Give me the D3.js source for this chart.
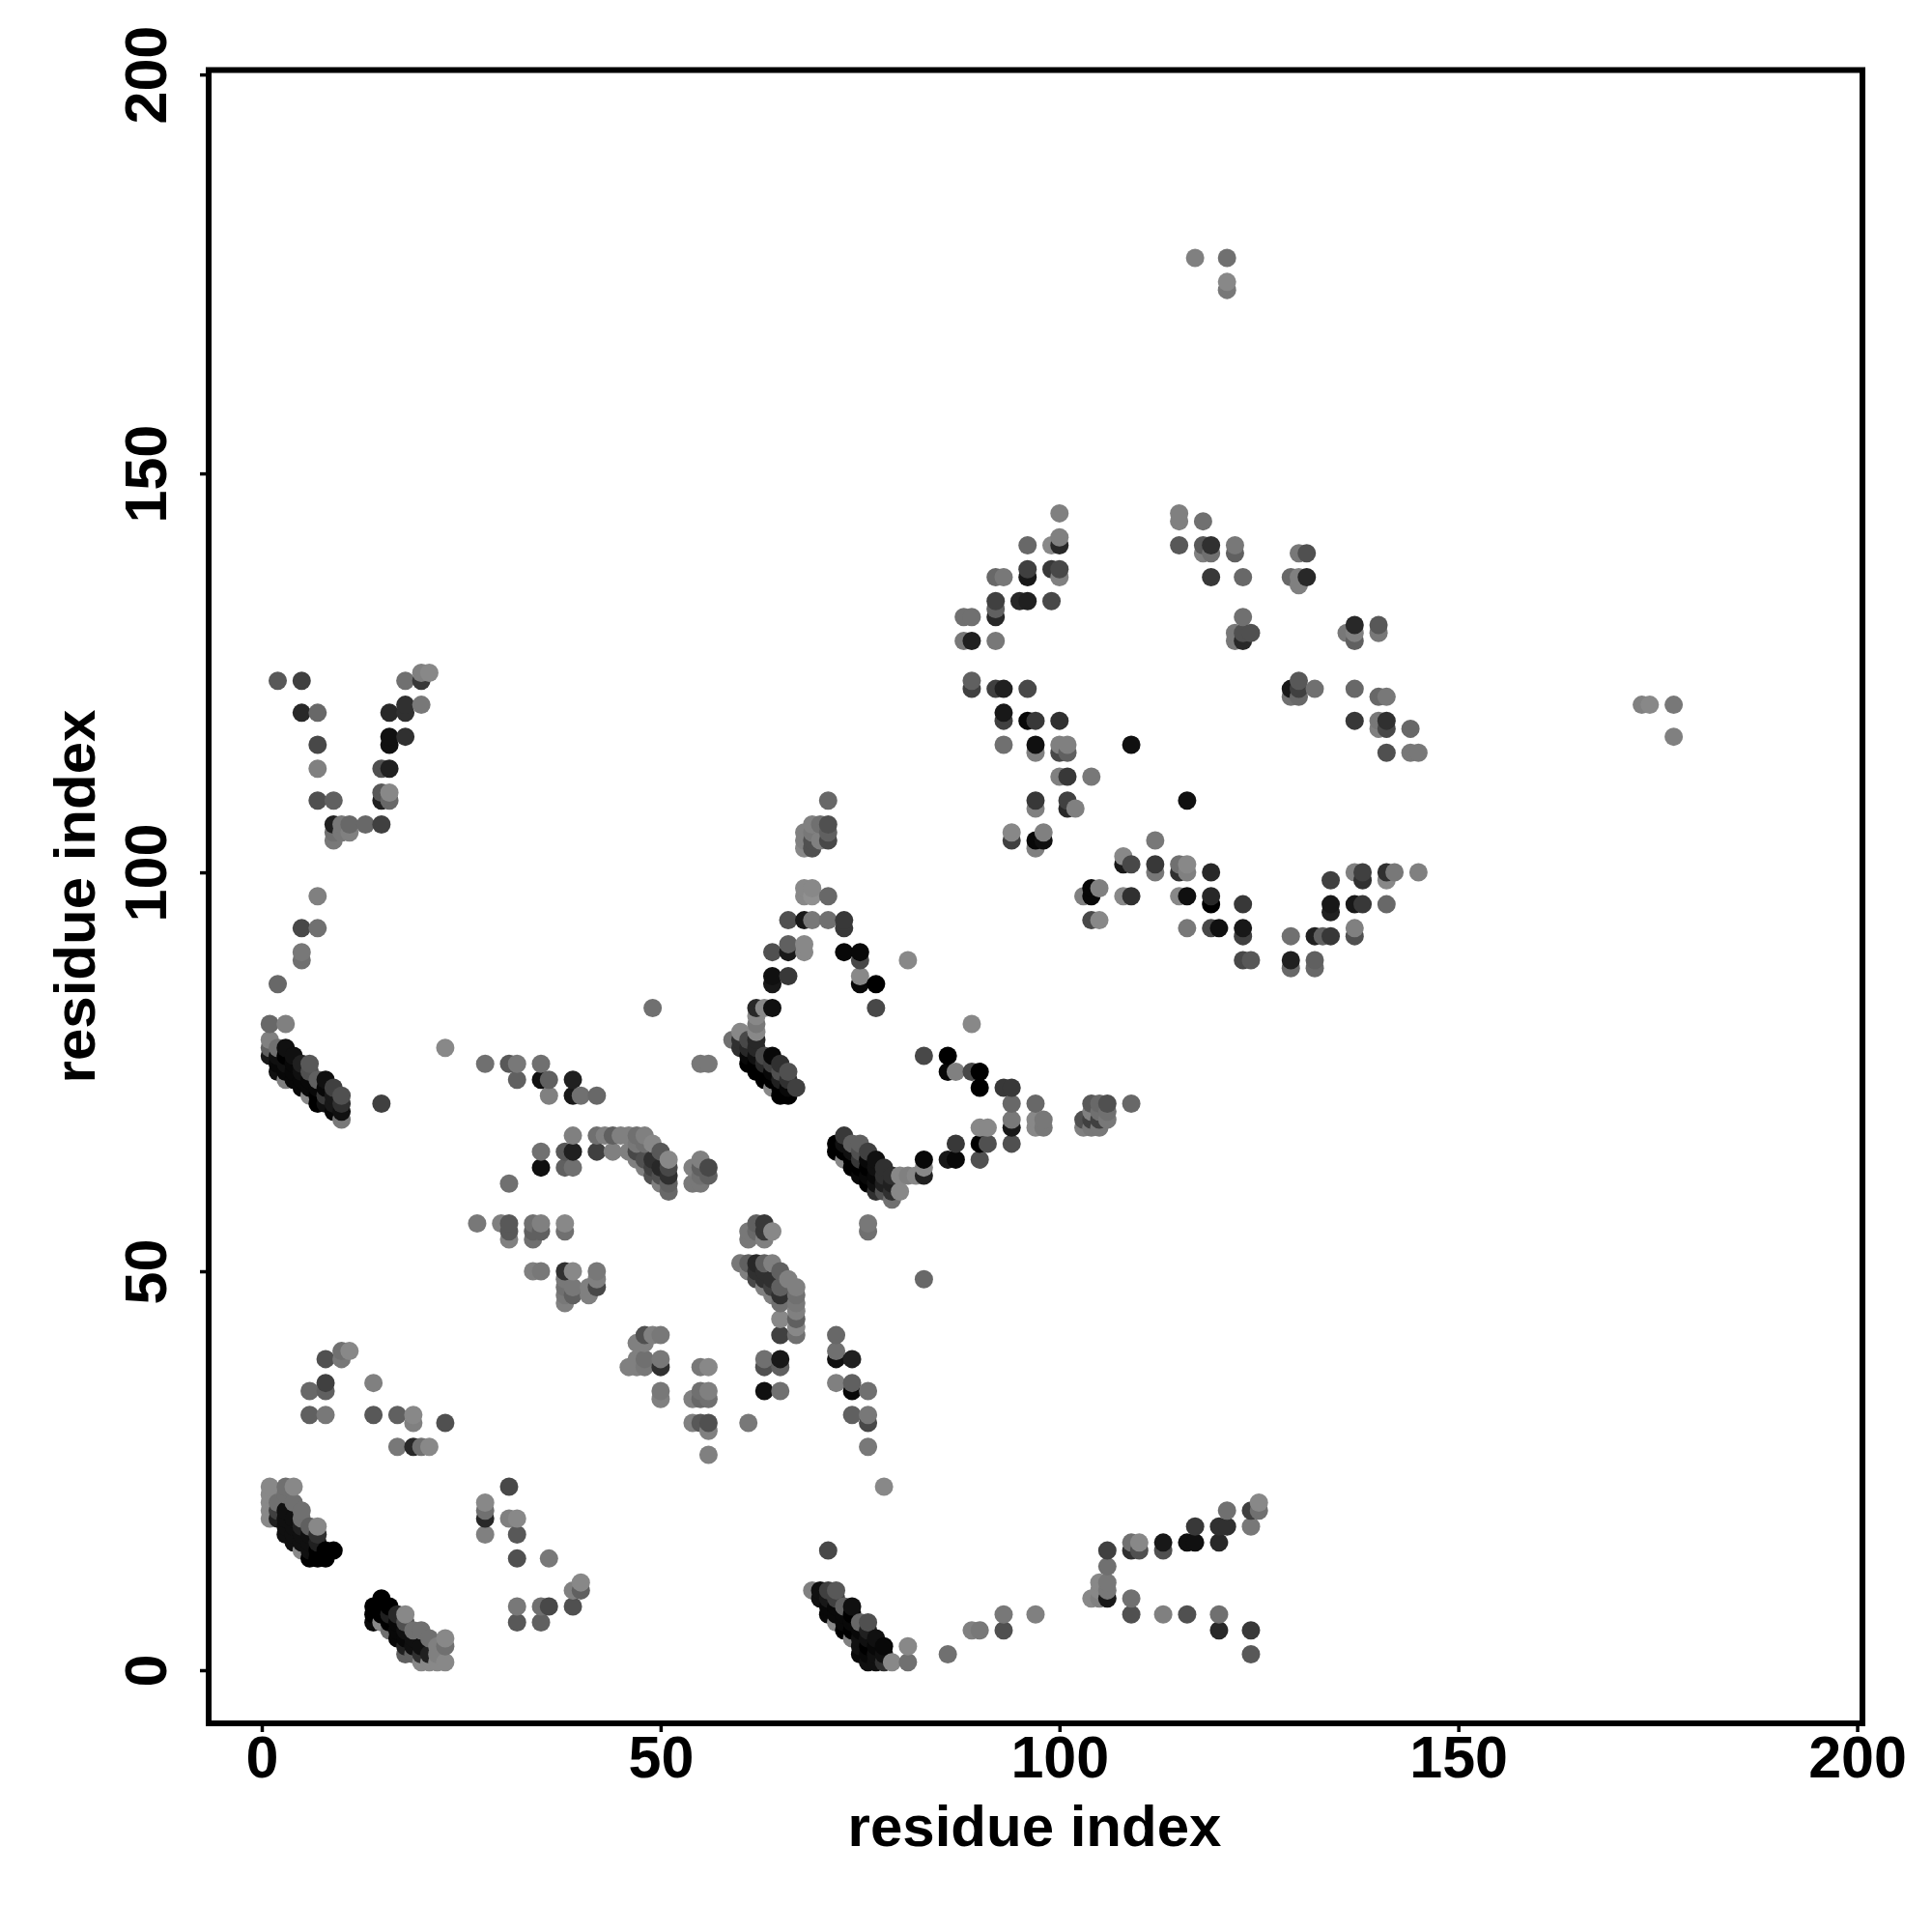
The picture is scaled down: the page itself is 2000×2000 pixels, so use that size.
<!DOCTYPE html>
<html><head><meta charset="utf-8">
<script src="https://cdn.jsdelivr.net/npm/d3@7"></script>
<style>html,body{margin:0;padding:0;background:#fff}svg{display:block}</style>
</head><body><svg id="c" width="2000" height="2000"></svg>
<script>
// Each row: [residue i, residue j, shade score (0 dark .. 9 light)]
const diagonalA = [[1,19,8.5],[1,20,8.5],[1,21,8.5],[1,22,8.5],[1,23,8.5],[2,19,2],[2,20,4],[2,21,7],[3,17,1],[3,18,1],[3,19,1],[3,20,1],[3,22,7],[3,23,7],[4,16,1],[4,17,1],[4,18,1],[4,19,1],[4,21,7],[4,23,8.5],[5,15,8.5],[5,16,1],[5,17,1],[5,18,2],[5,19,7],[5,20,7],[6,14,0],[6,15,1],[6,16,1],[6,17,1],[6,18,6],[7,14,0],[7,15,0],[7,16,2],[7,17,3],[7,18,8.5],[8,14,0],[8,15,0],[9,15,0]];
const upperSmallA = [[6,35,6.5],[6,32,6],[8,39,5],[8,36,4],[8,35,6],[8,32,7.5],[10,39,7.5],[10,40,7],[11,40,8.5],[14,36,8],[14,32,5.5],[17,32,6],[17,28,7.5],[19,32,8.5],[19,31,8],[19,28,2.5],[20,28,7],[21,28,8.5],[23,31,5]];
const diagonalB = [[14,6,.5],[14,7,0],[14,8,0],[15,6,8.5],[15,7,0],[15,8,0],[15,9,0],[16,5,7],[16,6,0],[16,7,2],[16,8,0],[17,4,.5],[17,5,.5],[17,6,.5],[17,7,2.5],[18,2,6],[18,3,2],[18,4,.5],[18,5,1],[18,6,5],[18,7,8.5],[19,2,6],[19,3,1],[19,4,1],[19,5,7],[20,1,8.5],[20,2,3],[20,3,1],[20,5,7],[21,1,8.5],[21,2,2],[21,4,7],[22,1,8.5],[22,2,8],[22,3,8],[23,1,8.5],[23,3,7],[23,4,8.5]];
const lowerRightA = [[28,17,8],[28,19,2.5],[28,20,7],[28,21,8.5],[31,19,8],[31,23,4.5],[32,6,5.5],[32,8,7.5],[32,14,5],[32,17,5.5],[32,19,8.5],[35,6,6],[35,8,7],[36,8,4.5],[36,14,7.5],[39,8,5],[39,10,8],[40,10,6],[40,11,8.5]];
const midBandLow = [[27,56,7.5],[30,56,8],[31,54,8],[31,55,5.5],[31,56,5.5],[31,61,7],[34,50,8],[34,54,7],[34,55,6],[34,56,7],[35,50,7.5],[35,55,6],[35,56,8],[38,46,8],[38,47,7.5],[38,48,7],[38,49,7.5],[38,50,3],[38,55,7],[38,56,8.5],[39,47,6],[39,48,7.5],[39,50,8.5],[41,47,8],[41,48,8],[42,48,4.5],[42,49,8],[42,50,7.5],[46,38,8],[47,38,8],[47,39,8],[47,41,8],[48,38,7.5],[48,39,7],[48,41,8],[48,42,5],[49,42,8],[50,34,8],[50,35,7.5],[50,38,3],[50,39,7.5],[50,42,7.5],[54,31,8],[54,34,8],[55,31,5.5],[55,34,6.5],[55,35,7],[55,38,7.5],[56,27,8],[56,30,8],[56,31,5],[56,34,7],[56,35,8],[56,38,8.5],[61,31,7.5],[63,35,1],[63,38,5],[63,39,7],[65,35,7],[65,38,6],[65,39,1.5],[65,42,4],[65,44,8.5],[72,36,8],[72,39,1],[72,40,7],[72,42,6.5],[74,32,6],[74,35,.5],[74,36,6],[74,39,2],[76,28,7.5],[76,31,4.5],[76,32,7.5],[76,35,7],[76,55,7],[76,56,7.5]];
const clusterNearSixty = [[60,51,7.5],[61,50,8],[61,51,6],[61,54,7.5],[61,55,7.5],[62,49,4.5],[62,50,3],[62,51,2.5],[62,55,6.5],[62,56,6],[63,48,8],[63,49,3],[63,50,3],[63,51,6],[63,54,8],[63,55,3.5],[63,56,3.5],[64,47,8],[64,48,4],[64,49,3],[64,51,8],[64,55,8.5],[65,46,7],[65,47,3],[65,48,6],[65,50,6],[66,49,8],[67,42,7],[67,43,8.5],[67,44,6],[67,45,8],[67,46,7.5],[67,47,7],[67,48,8]];
const midBandHigh = [[23,78,8.5],[28,76,7],[31,61,7],[31,76,5.5],[32,74,6],[32,76,7.5],[35,63,1],[35,65,7],[35,74,1],[35,76,7],[36,72,8],[36,74,6],[38,63,6],[38,65,5.5],[39,63,7],[39,65,2],[39,67,8],[39,72,1.5],[39,74,2],[40,72,7],[42,65,4],[42,67,7],[42,72,6.5],[43,67,8],[44,65,8],[44,67,6],[45,67,8],[46,65,8],[46,67,8],[47,64,8],[47,65,4.5],[47,66,7.5],[47,67,7],[48,63,8],[48,64,5],[48,66,7],[48,67,8],[49,62,5],[49,63,4],[49,64,3],[49,66,8.5],[49,83,7],[50,61,8],[50,62,5],[50,63,2.5],[50,65,5.5],[51,60,6.5],[51,61,6],[51,62,3],[51,63,4.5],[51,64,8.5],[54,61,7.5],[54,63,8],[55,61,7.5],[55,62,7],[55,63,6],[55,64,8],[55,76,7.5],[56,62,6],[56,63,4.5],[56,76,7.5]];
const diagonalC = [[59,79,7],[60,78,3],[60,79,3],[60,80,8.5],[61,76,0],[61,77,.5],[61,78,2.5],[61,79,4.5],[62,75,0],[62,76,0],[62,77,1],[62,78,2.5],[62,79,2.5],[62,80,8.5],[62,81,7.5],[62,82,8.5],[62,83,2.5],[63,74,0],[63,75,0],[63,76,2.5],[63,77,4.5],[63,83,8.5],[64,73,8.5],[64,74,0],[64,75,.5],[64,76,4],[64,77,.5],[64,83,1],[64,86,1.5],[64,87,1],[64,90,5],[65,72,0],[65,73,0],[65,74,2],[65,75,5],[65,76,3],[66,72,0],[66,73,.5],[66,74,3],[66,75,5],[66,87,3.5],[66,90,1.5],[66,91,6],[66,94,5],[67,73,4],[68,90,8.5],[68,91,8.5],[68,94,1.5],[68,97,8.5],[68,98,8.5],[68,103,8.5],[68,104,8],[68,105,8],[69,97,9],[69,98,8.5],[69,94,7.5],[69,103,5],[69,104,5],[69,105,7.5],[69,106,8],[70,104,8],[70,106,7],[71,94,7],[71,97,6.5],[71,104,4.5],[71,105,6],[71,106,5],[71,109,6.5],[73,93,3.5],[73,94,3.5],[73,90,.5],[75,86,.5],[75,87,8.5],[75,89,4.5],[75,90,.5],[77,83,4.5],[77,86,0],[81,89,8.5]];
const diagonalD = [[72,65,0],[72,66,0],[73,64,8.5],[73,65,0],[73,66,1],[73,67,3.5],[74,63,0],[74,64,0],[74,65,1],[74,66,6],[75,62,.5],[75,63,0],[75,64,3.5],[75,65,5],[75,66,6],[76,61,0],[76,62,.5],[76,63,0],[76,64,.5],[76,65,4],[77,60,3],[77,61,1],[77,62,.5],[77,63,1],[77,64,1],[78,60,5],[78,61,2],[78,62,3],[78,63,3],[79,59,7],[79,60,3],[79,61,2],[79,62,3],[80,60,8.5],[80,62,8.5],[81,62,8],[82,62,8.5],[83,49,6.5],[83,62,2],[83,63,8.5],[83,64,.5],[83,77,4.5],[86,64,1.5],[86,75,.5],[86,77,0],[87,64,.5],[87,66,3.5],[87,75,8],[89,75,4.5],[89,81,8.5],[90,64,5],[90,66,0],[90,68,8.5],[90,73,0],[90,75,0],[91,66,5],[91,68,8.5],[93,73,3.5],[94,66,5],[94,68,1.5],[94,69,7.5],[94,71,6.5],[94,73,3.5],[97,68,8.5],[97,69,8.5],[97,71,6.5],[98,68,7.5],[98,69,7.5],[103,68,8],[103,69,5],[104,68,7.5],[104,69,4],[104,70,8],[104,71,5.5],[105,68,7.5],[105,69,4],[105,70,7],[105,71,6.5],[106,69,7.5],[106,70,7],[106,71,5],[109,71,6.5]];
const lowerRightB = [[69,10,8],[70,9,1],[70,10,1],[71,7,.5],[71,8,.5],[71,9,1.5],[71,10,4],[71,15,4.5],[72,6,8.5],[72,7,.5],[72,8,.5],[72,9,4],[72,10,5.5],[73,5,0],[73,6,.5],[73,7,.5],[73,8,6],[74,4,8],[74,5,0],[74,6,.5],[74,7,0],[74,8,1],[75,2,.5],[75,3,1],[75,4,1],[75,5,.5],[75,6,6.5],[76,1,1],[76,2,.5],[76,3,0],[76,4,1],[76,5,2],[76,6,5],[77,1,1],[77,2,1],[77,3,.5],[77,4,1],[78,1,3],[78,2,1],[78,3,.5],[78,23,8.5],[79,1,8.5],[81,1,7],[81,3,8.5],[86,2,7],[89,5,8],[90,5,7.5],[93,5,5],[93,7,7.5],[97,7,8],[104,9,8.5],[105,9,8],[105,10,8.5],[105,11,8.5],[106,9,1.5],[106,10,7.5],[106,11,7.5],[106,13,7],[106,15,4],[109,7,5],[109,9,7],[109,15,3],[109,16,7],[110,15,5],[110,16,8.5],[113,7,8],[113,15,5],[113,16,1.5],[116,7,5],[116,16,1],[117,16,1],[117,18,3.5],[120,5,2.5],[120,7,7],[120,16,2.5],[120,18,3],[121,18,3],[121,20,7],[124,2,5.5],[124,5,3.5],[124,18,7.5],[124,20,4],[125,20,7],[125,21,8.5]];
const vShape = [[2,86,6.5],[2,124,5.5],[5,89,7],[5,90,7.5],[5,93,4.5],[5,120,2.5],[5,124,4],[7,93,7],[7,97,8],[7,109,5],[7,113,8],[7,116,4.5],[7,120,6.5],[9,104,7.5],[9,105,7],[9,106,2],[9,109,6],[10,105,7.5],[10,106,7.5],[11,105,8],[11,106,6.5],[13,106,6.5],[15,71,4],[15,106,4],[15,109,2],[15,110,5.5],[15,113,5],[16,109,6.5],[16,110,8.5],[16,113,2],[16,116,1],[16,117,1],[16,120,2.5],[18,117,3],[18,120,3],[18,121,3],[18,124,7],[20,121,7.5],[20,124,3.5],[20,125,8],[21,125,8.5]];
const diagonalE = [[1,77,1.5],[1,78,6],[1,79,8],[1,81,6.5],[2,75,1],[2,76,.5],[2,77,1],[2,78,7],[3,74,8],[3,75,.5],[3,76,1],[3,77,0],[3,78,1],[3,81,8],[4,74,.5],[4,75,.5],[4,76,.5],[4,77,1],[5,73,.5],[5,74,.5],[5,75,1],[5,76,2],[6,72,8.5],[6,73,.5],[6,74,.5],[6,75,5],[6,76,5.5],[7,71,0],[7,72,0],[7,73,.5],[7,74,6],[8,71,1],[8,72,3.5],[8,73,.5],[8,74,1],[9,70,.5],[9,71,1.5],[9,72,1.5],[9,73,4],[10,69,7.5],[10,70,1],[10,71,3],[10,72,5]];
const upperRing = [[88,129,7.5],[88,132,7],[89,123,4],[89,124,6],[89,129,2],[89,132,7],[92,123,4],[92,129,7.5],[92,132,2.5],[92,133,6],[92,134,4],[92,137,6.5],[93,116,7],[93,119,4],[93,120,1.5],[93,123,2],[93,137,7.5],[94,104,4],[94,105,8.5],[95,134,2.5],[96,119,.5],[96,123,4.5],[96,134,2],[96,137,1.5],[96,138,4],[96,141,6.5],[97,103,8],[97,104,.5],[97,108,8],[97,109,3.5],[97,115,8],[97,116,1],[97,119,3.5],[98,104,1],[98,105,8],[99,134,4.5],[99,138,3.5],[99,141,8.5],[100,112,8],[100,115,4.5],[100,116,8],[100,119,3],[100,137,8],[100,138,4.5],[100,141,2.5],[100,142,8],[100,145,8],[101,108,2.5],[101,109,4],[101,112,3.5],[101,115,6],[101,116,8],[102,108,8],[104,112,7.5]];
const upperRingRight = [[115,141,5.5],[115,144,8],[115,145,8],[116,109,1],[118,140,8],[118,141,5.5],[118,144,7],[119,137,3.5],[119,140,7],[119,141,3],[122,129,7.5],[122,130,7.5],[122,140,6],[122,141,7.5],[123,129,2.5],[123,130,5],[123,132,7],[123,137,6.5],[124,130,5],[129,122,7],[129,123,1.5],[129,137,6.5],[130,122,6.5],[130,123,4],[130,124,5.5],[130,136,8],[130,137,8],[130,140,7.5],[131,137,2.5],[131,140,5],[132,123,7],[136,130,7.5],[137,119,3.5],[137,123,6.5],[137,129,6],[137,130,8],[137,131,2.5],[140,118,8],[140,119,7.5],[140,122,6.5],[140,130,7.5],[140,131,5.5],[141,115,5],[141,118,4.5],[141,119,3],[141,122,7.5],[144,115,7.5],[144,118,6.5],[145,115,7.5]];
const lowerRing = [[103,97,8],[104,94,4.5],[104,97,.5],[104,98,.5],[105,94,8.5],[105,98,8],[108,97,8.5],[108,101,1.5],[108,102,8.5],[109,97,3],[109,101,4.5],[109,116,1],[112,100,7.5],[112,101,3.5],[112,104,7.5],[115,97,8.5],[115,100,3],[115,101,7],[116,93,7.5],[116,97,1],[116,100,8],[116,101,8.5],[119,93,4.5],[119,96,0],[119,97,2.5],[119,100,2.5],[120,93,1],[123,89,4.5],[123,92,4],[123,93,1.5],[123,96,3.5],[124,89,5.5],[129,88,6.5],[129,89,2],[129,92,7],[132,88,6.5],[132,89,6],[132,92,2],[133,92,6],[134,92,3.5],[134,95,2],[134,96,1.5],[134,99,4],[137,92,5],[137,93,8],[137,96,1.5],[137,100,8],[138,96,3.5],[138,99,3],[138,100,4],[141,96,6.5],[141,99,8.5],[141,100,3],[142,100,7.5],[145,100,8]];
const isolated = [[117,177,8],[121,173,7.5],[121,174,8.5],[121,177,7],[173,121,8],[174,121,8.5],[177,117,8],[177,121,7.5]];
const tickValues = [0,50,100,150,200];
const axisTitle = "residue index";

const rowKey = d => d[0] + ":" + d[1];
const contacts = Array.from(d3.rollup(
  [].concat(diagonalA, upperSmallA, diagonalB, lowerRightA, midBandLow, clusterNearSixty, midBandHigh, diagonalC, diagonalD, lowerRightB, vShape, diagonalE, upperRing, upperRingRight, lowerRing, isolated),
  v => v[0], rowKey).values())
  .sort((a, b) => d3.ascending(a[0], b[0]) || d3.ascending(a[1], b[1]));

const left = 216, right = 1928, top_ = 72.5, bottom = 1784;
const x = d3.scaleLinear().domain([-6.66, 200.66]).range([left, right]);
const y = d3.scaleLinear().domain([-6.66, 200.56]).range([bottom, top_]);
const shade = d3.scaleLinear().domain([0, 9]).range(["#000000", "#909090"]);
const font = "'Liberation Sans', Arial, sans-serif";
const svg = d3.select("#c");
svg.append("rect").attr("width", 2000).attr("height", 2000).attr("fill", "#fff");

svg.append("g").selectAll("circle").data(contacts).join("circle")
  .attr("cx", d => x(d[0])).attr("cy", d => y(d[1])).attr("r", 9.5)
  .attr("fill", d => shade(d[2]));

const gx = svg.append("g").attr("transform", `translate(0,${bottom})`)
  .call(d3.axisBottom(x).tickValues(tickValues).tickSize(9).tickPadding(8).tickFormat(d3.format("d")));
const gy = svg.append("g").attr("transform", `translate(${left},0)`)
  .call(d3.axisLeft(y).tickValues(tickValues).tickSize(9).tickFormat(d3.format("d")));
[gx, gy].forEach(g => {
  g.select(".domain").remove();
  g.selectAll(".tick line").attr("stroke", "#000").attr("stroke-width", 3.5);
  g.selectAll("text").attr("font-family", font).attr("font-weight", "bold").attr("font-size", 61).attr("fill", "#000");
});
gx.selectAll("text").attr("dy", null).attr("y", null).attr("dominant-baseline", null)
  .attr("transform", "translate(0,56)");
gy.selectAll("text").attr("x", null).attr("dy", null)
  .attr("text-anchor", "middle").attr("transform", "translate(-44.5,0) rotate(-90)");

svg.append("rect").attr("x", left).attr("y", top_).attr("width", right - left).attr("height", bottom - top_)
  .attr("fill", "none").attr("stroke", "#000").attr("stroke-width", 6);

svg.append("text").attr("x", 1071).attr("y", 1911).attr("text-anchor", "middle")
  .attr("font-family", font).attr("font-weight", "bold").attr("font-size", 60).text(axisTitle);
svg.append("text").attr("transform", "translate(98,928) rotate(-90)").attr("text-anchor", "middle")
  .attr("font-family", font).attr("font-weight", "bold").attr("font-size", 60).text(axisTitle);
</script></body></html>
